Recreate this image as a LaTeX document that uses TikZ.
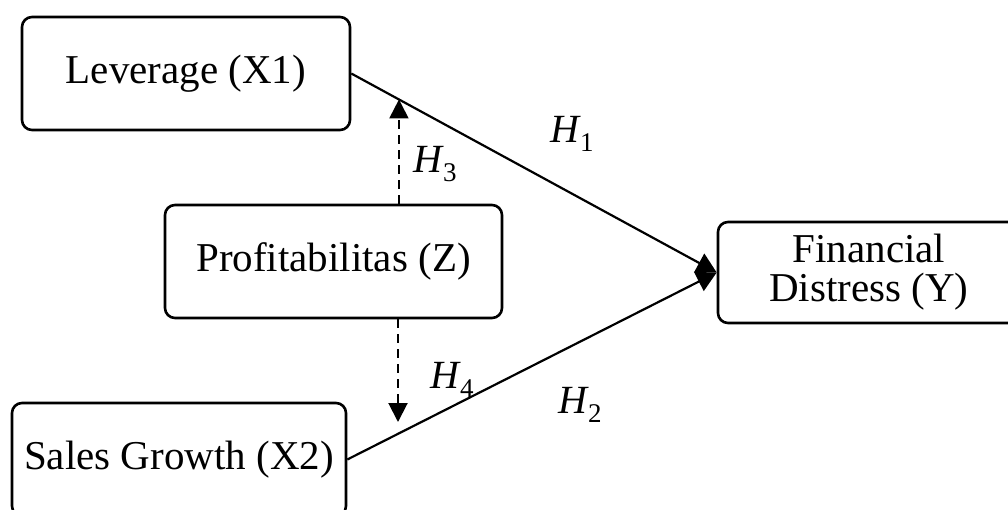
\documentclass[tikz,border=0pt]{standalone}
\usepackage{fontspec}
\setmainfont{Liberation Serif}
\usetikzlibrary{arrows.meta,calc}

% hypothesis symbol: italic H with an upright, lowered index
\newcommand{\hypo}[1]{{\itshape H}\kern1pt\raisebox{-9pt}{\fontsize{27}{27}\selectfont #1}}

\tikzset{
  var/.style={draw, line width=2.6pt, rounded corners=10pt, align=center,
    inner sep=0pt, font=\fontsize{41}{39}\selectfont},
  path/.style={line width=2.2pt, -{Triangle[width=21pt,length=20pt]}},
  moderation/.style={line width=2pt, dash pattern=on 9pt off 6pt,
    -{Triangle[width=19pt,length=19pt]}},
  hyp/.style={anchor=base west, inner sep=0pt, font=\fontsize{40}{40}\selectfont}
}

\begin{document}
\begin{tikzpicture}[x=1pt, y=-1pt]
  \useasboundingbox (0,0) rectangle (1008,509);
  \clip (0,0) rectangle (1008,509);

  % constructs
  \node[var, minimum width=328pt, minimum height=113pt] (lev) at (186,73.5) {Leverage (X1)};
  \node[var, minimum width=337pt, minimum height=113pt] (prof) at (333.5,261.5) {Profitabilitas (Z)};
  \node[var, minimum width=334pt, minimum height=113pt] (sal) at (179,459.5) {Sales Growth (X2)};
  \node[var, minimum width=302pt, minimum height=101pt] (fin) at (869,272.5) {Financial\\Distress (Y)};

  % direct effects
  \draw[path] (lev.east) -- (fin.west);
  \draw[path] (sal.east) -- (fin.west);

  % moderating effects
  \coordinate (h3end) at ($(lev.east)!0.1304!(fin.west)$);
  \coordinate (h4end) at (398,422);
  \draw[moderation] (prof.north -| h3end) -- (h3end);
  \draw[moderation] (prof.south -| h4end) -- (h4end);

  % hypothesis labels
  \node[hyp] (h1) at (550,142) {\hypo{1}};
  \node[hyp] (h2) at (558,413) {\hypo{2}};
  \node[hyp] (h3) at (413,172) {\hypo{3}};
  \node[hyp] (h4) at (430,388) {\hypo{4}};
\end{tikzpicture}
\end{document}
